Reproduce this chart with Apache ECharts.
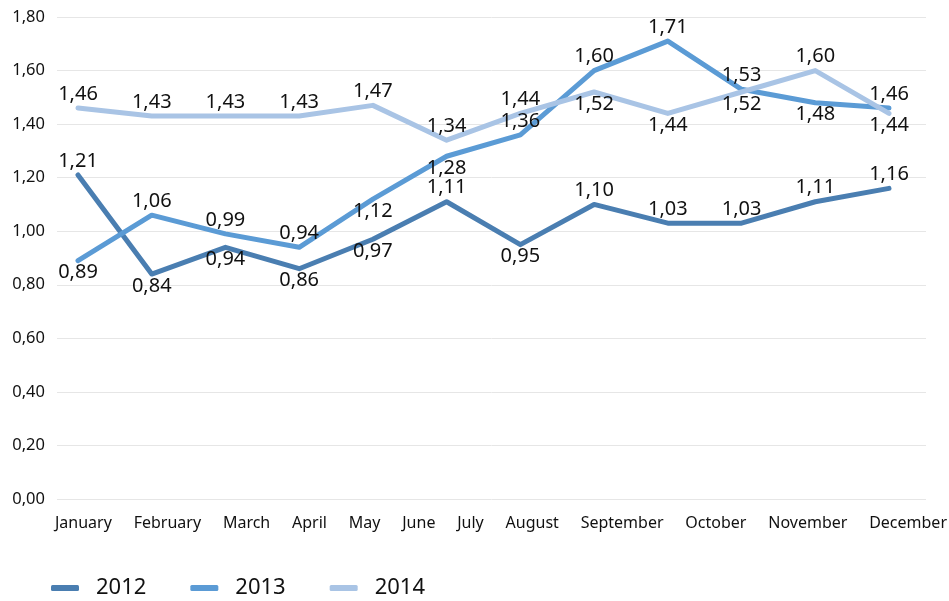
<!DOCTYPE html>
<html>
<head>
<meta charset="utf-8">
<script src="https://cdn.jsdelivr.net/npm/echarts@6/dist/echarts.min.js"></script>
<style>
  html, body { margin: 0; padding: 0; background: #fff; }
  #chart { width: 949px; height: 601px; }
</style>
</head>
<body>
<div id="chart"></div>
<script>
var months = ['January', 'February', 'March', 'April', 'May', 'June', 'July', 'August', 'September', 'October', 'November', 'December']
var years = ['2012', '2013', '2014']
var values2012 = [1.21, 0.84, 0.94, 0.86, 0.97, 1.11, 0.95, 1.10, 1.03, 1.03, 1.11, 1.16]
var values2013 = [0.89, 1.06, 0.99, 0.94, 1.12, 1.28, 1.36, 1.60, 1.71, 1.53, 1.48, 1.46]
var values2014 = [1.46, 1.43, 1.43, 1.43, 1.47, 1.34, 1.44, 1.52, 1.44, 1.52, 1.60, 1.44]
var yTicks = [0, 0.2, 0.4, 0.6, 0.8, 1.0, 1.2, 1.4, 1.6, 1.8]

// where each value label sits (t = above the point, b = below)
var labelSide = {
  '2012': 'tbbbbtbttttt',
  '2013': 'btttbbttttbt',
  '2014': 'tttttttbbbtb'
}
var colors = ['#4a7eb1', '#5b9bd5', '#a9c4e5']
var font = '"Noto Sans", sans-serif'

function fmt (v) { return v.toFixed(2).replace('.', ',') }

function makeSeries (name, vals, color) {
  var side = labelSide[name]
  return {
    name: name,
    type: 'line',
    xAxisIndex: 0,
    yAxisIndex: 0,
    symbol: 'circle',
    symbolSize: 0,
    showSymbol: true,
    color: color,
    itemStyle: { color: color },
    lineStyle: { width: 5, color: color, cap: 'round', join: 'round' },
    label: {
      show: true,
      color: '#111',
      fontSize: 20,
      fontFamily: font,
      formatter: function (p) { return fmt(p.value) }
    },
    data: vals.map(function (v, i) {
      var top = side.charAt(i) === 't'
      return {
        value: v,
        label: {
          position: top ? 'top' : 'bottom',
          distance: top ? 4 : 2
        }
      }
    })
  }
}

// month labels are spread across the full width with equal gaps
function monthGraphics () {
  var ctx = document.createElement('canvas').getContext('2d')
  var f = '16px ' + font
  ctx.font = f
  var widths = months.map(function (m) { return ctx.measureText(m).width })
  var total = widths.reduce(function (a, b) { return a + b }, 0)
  var x0 = 55
  var x1 = 947
  var gap = (x1 - x0 - total) / (months.length - 1)
  var x = x0
  return months.map(function (m, i) {
    var g = {
      type: 'text',
      left: x,
      top: 515,
      style: { text: m, font: f, fill: '#111' }
    }
    x += widths[i] + gap
    return g
  })
}

var chart = echarts.init(document.getElementById('chart'), null, { renderer: 'canvas' })
chart.setOption({
  animation: false,
  backgroundColor: '#fff',
  grid: [
    { left: 78, right: 60, top: 17, bottom: 102 },
    { left: 57, right: 23, top: 17, bottom: 102 }
  ],
  xAxis: [
    { type: 'category', gridIndex: 0, data: months, boundaryGap: false, show: false },
    { type: 'category', gridIndex: 1, data: months, show: false }
  ],
  yAxis: [
    { type: 'value', gridIndex: 0, min: 0, max: 1.8, interval: 0.2, show: false },
    {
      type: 'value', gridIndex: 1, min: yTicks[0], max: yTicks[yTicks.length - 1], interval: 0.2,
      axisLine: { show: false },
      axisTick: { show: false },
      splitLine: { lineStyle: { color: '#e6e6e6', width: 1 } },
      axisLabel: {
        margin: 12,
        color: '#111',
        fontSize: 16.5,
        fontFamily: font,
        formatter: function (v) { return fmt(v) }
      }
    }
  ],
  legend: {
    data: years,
    left: 46,
    top: 572,
    icon: 'roundRect',
    itemWidth: 28,
    itemHeight: 6,
    itemGap: 44,
    textStyle: { color: '#111', fontSize: 22, fontFamily: font, padding: [0, 0, 0, 12] }
  },
  graphic: monthGraphics(),
  series: [
    makeSeries('2012', values2012, colors[0]),
    makeSeries('2013', values2013, colors[1]),
    makeSeries('2014', values2014, colors[2])
  ]
})
</script>
</body>
</html>
